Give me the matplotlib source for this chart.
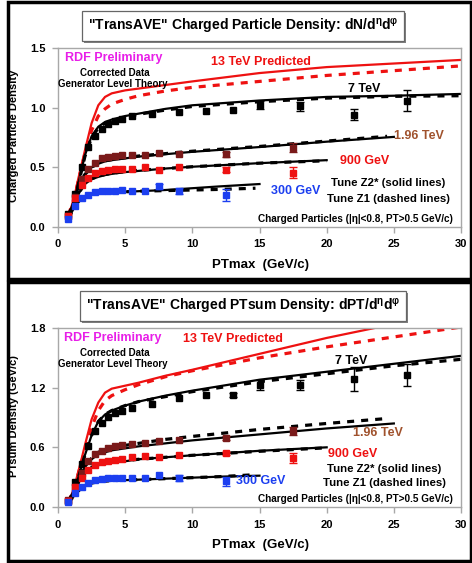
import matplotlib
matplotlib.use("Agg")
import matplotlib.pyplot as plt
from matplotlib.patches import Rectangle

plt.rcParams['font.family'] = ['Liberation Sans', 'DejaVu Sans']
plt.rcParams['font.weight'] = 'bold'
plt.rcParams['mathtext.default'] = 'regular'

# ---- data bins (PTmax, GeV/c) ----
bins = [0.75, 1.25, 1.75, 2.25, 2.75, 3.25, 3.75, 4.25, 4.75, 5.5, 6.5, 7.5, 9.0, 12.5, 17.5]
bins300 = [0.75, 1.25, 1.75, 2.25, 2.75, 3.25, 3.75, 4.25, 4.75, 5.5, 6.5, 7.5, 9.0, 12.5]
bins7 = [0.75, 1.25, 1.75, 2.25, 2.75, 3.25, 3.75, 4.25, 4.75, 5.5, 7.0, 9.0, 11.0, 13.0, 15.0, 18.0, 22.0, 26.0]

# ---- theory x grids ----
tx30 = [0.75, 1, 1.25, 1.5, 1.75, 2, 2.5, 3, 3.5, 4, 5, 6, 8, 10, 15, 20, 25, 30]
tx25 = [0.75, 1, 1.25, 1.5, 1.75, 2, 2.5, 3, 3.5, 4, 5, 6, 8, 10, 15, 20, 25]
tx24 = [0.75, 1, 1.25, 1.5, 1.75, 2, 2.5, 3, 3.5, 4, 5, 6, 8, 10, 15, 20, 24.5]
tx20 = [0.75, 1, 1.25, 1.5, 1.75, 2, 2.5, 3, 3.5, 4, 5, 6, 8, 10, 15, 20]
tx15 = [0.75, 1, 1.25, 1.5, 1.75, 2, 2.5, 3, 4, 5, 6, 8, 10, 12, 15]
tx14 = [0.75, 1, 1.25, 1.5, 1.75, 2, 2.5, 3, 4, 5, 6, 8, 10, 12, 14.7]

# ---- top panel: charged particle density ----
dens_7 = [0.11, 0.28, 0.50, 0.67, 0.76, 0.82, 0.86, 0.89, 0.905, 0.93, 0.945, 0.96, 0.975, 0.98, 1.02, 1.01, 0.94, 1.06]
dens_7_err = [0, 0, 0, 0, 0, 0, 0, 0, 0, 0, 0, 0, 0, 0, 0.035, 0.035, 0.047, 0.09]
dens_196 = [0.09, 0.25, 0.40, 0.49, 0.54, 0.575, 0.59, 0.595, 0.60, 0.60, 0.605, 0.62, 0.61, 0.61, 0.665]
dens_196_err = [0, 0, 0, 0, 0, 0, 0, 0, 0, 0, 0, 0, 0, 0.02, 0.035]
dens_900 = [0.09, 0.24, 0.35, 0.41, 0.45, 0.47, 0.48, 0.485, 0.49, 0.49, 0.50, 0.48, 0.50, 0.48, 0.455]
dens_900_err = [0, 0, 0, 0, 0, 0, 0, 0, 0, 0, 0, 0, 0, 0.02, 0.045]
dens_300 = [0.07, 0.175, 0.24, 0.27, 0.29, 0.30, 0.305, 0.305, 0.31, 0.305, 0.305, 0.34, 0.30, 0.265]
dens_300_err = [0, 0, 0, 0, 0, 0, 0, 0, 0, 0, 0, 0.02, 0.025, 0.05]

dens_13_z2 = [0.10, 0.17, 0.27, 0.40, 0.52, 0.64, 0.87, 1.02, 1.09, 1.12, 1.145, 1.16, 1.19, 1.22, 1.29, 1.34, 1.37, 1.40]
dens_13_z1 = [0.10, 0.17, 0.26, 0.38, 0.50, 0.61, 0.81, 0.93, 0.99, 1.03, 1.07, 1.10, 1.14, 1.17, 1.22, 1.27, 1.31, 1.35]
dens_7_z2 = [0.10, 0.16, 0.24, 0.36, 0.48, 0.60, 0.76, 0.84, 0.88, 0.90, 0.93, 0.95, 0.99, 1.02, 1.06, 1.09, 1.10, 1.115]
dens_7_z1 = [0.10, 0.15, 0.23, 0.35, 0.47, 0.59, 0.75, 0.83, 0.87, 0.89, 0.92, 0.945, 0.98, 1.01, 1.05, 1.08, 1.095, 1.10]
dens_196_z2 = [0.09, 0.15, 0.23, 0.32, 0.39, 0.44, 0.50, 0.53, 0.55, 0.56, 0.575, 0.59, 0.61, 0.63, 0.67, 0.715, 0.755]
dens_196_z1 = [0.09, 0.15, 0.23, 0.32, 0.39, 0.44, 0.50, 0.535, 0.555, 0.565, 0.58, 0.595, 0.615, 0.635, 0.675, 0.72, 0.76]
dens_900_z2 = [0.09, 0.14, 0.20, 0.27, 0.32, 0.36, 0.40, 0.42, 0.435, 0.445, 0.46, 0.47, 0.49, 0.505, 0.535, 0.56]
dens_900_z1 = [0.09, 0.14, 0.20, 0.27, 0.32, 0.36, 0.405, 0.425, 0.44, 0.45, 0.465, 0.475, 0.49, 0.505, 0.535, 0.555]
dens_300_z2 = [0.07, 0.12, 0.17, 0.21, 0.24, 0.255, 0.275, 0.285, 0.29, 0.295, 0.30, 0.31, 0.325, 0.34, 0.36]
dens_300_z1 = [0.07, 0.12, 0.17, 0.21, 0.24, 0.255, 0.275, 0.285, 0.29, 0.295, 0.30, 0.305, 0.31, 0.315, 0.325]

# ---- bottom panel: PTsum density ----
pts_7 = [0.06, 0.25, 0.43, 0.61, 0.76, 0.84, 0.91, 0.95, 0.97, 1.00, 1.04, 1.10, 1.125, 1.13, 1.23, 1.23, 1.29, 1.33]
pts_7_err = [0, 0, 0, 0, 0, 0, 0, 0, 0, 0, 0, 0, 0, 0.02, 0.05, 0.05, 0.12, 0.11]
pts_196 = [0.07, 0.20, 0.34, 0.46, 0.53, 0.56, 0.59, 0.61, 0.62, 0.63, 0.64, 0.66, 0.675, 0.69, 0.76]
pts_196_err = [0, 0, 0, 0, 0, 0, 0, 0, 0, 0, 0, 0, 0, 0.02, 0.04]
pts_900 = [0.06, 0.20, 0.29, 0.37, 0.42, 0.45, 0.465, 0.47, 0.48, 0.50, 0.51, 0.50, 0.52, 0.54, 0.49]
pts_900_err = [0, 0, 0, 0, 0, 0, 0, 0, 0, 0, 0, 0, 0, 0.015, 0.05]
pts_300 = [0.05, 0.14, 0.20, 0.245, 0.27, 0.28, 0.29, 0.29, 0.295, 0.29, 0.295, 0.32, 0.295, 0.26]
pts_300_err = [0, 0, 0, 0, 0, 0, 0, 0, 0, 0, 0, 0, 0.03, 0.045]

pts_13_z2 = [0.05, 0.12, 0.22, 0.35, 0.48, 0.62, 0.88, 1.05, 1.15, 1.19, 1.22, 1.25, 1.32, 1.38, 1.54, 1.70, 1.84, 1.96]
pts_13_z1 = [0.05, 0.12, 0.21, 0.33, 0.45, 0.57, 0.80, 0.97, 1.07, 1.12, 1.18, 1.23, 1.31, 1.37, 1.50, 1.61, 1.71, 1.81]
pts_7_z2 = [0.05, 0.11, 0.19, 0.29, 0.40, 0.52, 0.72, 0.86, 0.93, 0.97, 1.02, 1.06, 1.12, 1.17, 1.28, 1.36, 1.44, 1.52]
pts_7_z1 = [0.05, 0.11, 0.19, 0.29, 0.40, 0.52, 0.72, 0.86, 0.93, 0.97, 1.02, 1.06, 1.11, 1.16, 1.26, 1.34, 1.42, 1.485]
pts_196_z2 = [0.06, 0.11, 0.17, 0.25, 0.33, 0.40, 0.48, 0.53, 0.55, 0.57, 0.59, 0.61, 0.64, 0.67, 0.73, 0.79, 0.84]
pts_196_z1 = [0.06, 0.11, 0.17, 0.25, 0.33, 0.40, 0.49, 0.55, 0.58, 0.60, 0.62, 0.64, 0.68, 0.71, 0.78, 0.84, 0.89]
pts_900_z2 = [0.05, 0.10, 0.16, 0.23, 0.30, 0.35, 0.40, 0.42, 0.435, 0.445, 0.46, 0.48, 0.50, 0.52, 0.565, 0.60]
pts_900_z1 = [0.05, 0.10, 0.16, 0.23, 0.30, 0.35, 0.40, 0.425, 0.44, 0.45, 0.465, 0.48, 0.50, 0.52, 0.56, 0.595]
pts_300_z2 = [0.04, 0.08, 0.12, 0.16, 0.19, 0.215, 0.24, 0.255, 0.265, 0.27, 0.275, 0.285, 0.295, 0.305, 0.315]
pts_300_z1 = [0.04, 0.08, 0.12, 0.16, 0.19, 0.215, 0.24, 0.255, 0.265, 0.27, 0.275, 0.285, 0.295, 0.305, 0.325]

xticks = [0, 5, 10, 15, 20, 25, 30]
yticks_top = [0.0, 0.5, 1.0, 1.5]
yticks_bot = [0.0, 0.6, 1.2, 1.8]

BLACK = '#000000'
RED = '#ee1111'
MAROON = '#7a1a1a'
BLUE = '#1c3ff0'
SIENNA = '#a0522d'
MAGENTA = '#e81ee8'
GRAY = '#a8a8a8'

W, H = 472, 563
fig = plt.figure(figsize=(W / 100, H / 100), dpi=100)


def fx(px):
    return px / W


def fy(py):
    return 1 - py / H


def theory(ax, x, y, color, dashed):
    if dashed:
        ax.plot(x, y, color=color, lw=2.3, ls=(0, (2.2, 2.2)), zorder=2)
    else:
        ax.plot(x, y, color=color, lw=1.6, zorder=2)


def data(ax, x, y, err, color):
    ex = [a for a, e in zip(x, err) if e > 0]
    ey = [b for b, e in zip(y, err) if e > 0]
    ee = [e for e in err if e > 0]
    ax.errorbar(ex, ey, yerr=ee, fmt='none', ecolor=color, elinewidth=1.0,
                capsize=3, capthick=1.0, zorder=3)
    ax.plot(x, y, 's', color=color, ms=4.6, mec=color, zorder=4)


titles = []


def panel(top_px, ylim, yticks, ylabel, title, series, labels):
    ax = fig.add_axes([fx(58), fy(top_px + 179), fx(461) - fx(58), 179 / H])
    for xs, z2, xd, z1, col in series['lines']:
        theory(ax, xd, z1, col, True)
        theory(ax, xs, z2, col, False)
    for x, y, e, col in series['points']:
        data(ax, x, y, e, col)
    ax.set_xlim(0, 30)
    ax.set_ylim(*ylim)
    ax.set_xticks(xticks)
    ax.set_yticks(yticks)
    ax.set_yticklabels(['%.1f' % v for v in yticks])
    for s in ax.spines.values():
        s.set_color(GRAY)
        s.set_linewidth(1.0)
    ax.tick_params(direction='out', length=4, width=1.0, color=GRAY,
                   labelsize=8, pad=5)
    for t in ax.get_xticklabels() + ax.get_yticklabels():
        t.set_fontweight('bold')
    fig.text(fx(14), fy(top_px + 88), ylabel, rotation=90, fontsize=8,
             ha='center', va='center')
    fig.text(fx(260), fy(top_px + 217), 'PTmax  (GeV/c)', fontsize=9.5,
             ha='center', va='center')
    t = fig.text(fx(243), fy(top_px - 22), title, fontsize=10, ha='center',
                 va='center', zorder=5,
                 bbox=dict(boxstyle='square,pad=0.4', fc='white', ec='#666666', lw=0.9))
    titles.append(t)
    for (x, y, s, col, size) in labels:
        ax.text(x, y, s, color=col, fontsize=size, ha='center', va='center',
                fontweight='bold', zorder=5)
    ax.text(29.4, ylim[1] * 0.047, 'Charged Particles (|\u03b7|<0.8, PT>0.5 GeV/c)',
            fontsize=7.2, ha='right', va='center', zorder=5)
    return ax


top_series = {
    'lines': [
        (tx30, dens_13_z2, tx30, dens_13_z1, RED),
        (tx30, dens_7_z2, tx30, dens_7_z1, BLACK),
        (tx25, dens_196_z2, tx24, dens_196_z1, BLACK),
        (tx20, dens_900_z2, tx20, dens_900_z1, BLACK),
        (tx15, dens_300_z2, tx14, dens_300_z1, BLACK),
    ],
    'points': [
        (bins7, dens_7, dens_7_err, BLACK),
        (bins, dens_196, dens_196_err, MAROON),
        (bins, dens_900, dens_900_err, RED),
        (bins300, dens_300, dens_300_err, BLUE),
    ],
}
top_labels = [
    (4.15, 1.413, 'RDF Preliminary', MAGENTA, 9),
    (4.2, 1.29, 'Corrected Data', BLACK, 7),
    (4.1, 1.20, 'Generator Level Theory', BLACK, 7),
    (15.1, 1.38, '13 TeV Predicted', RED, 9),
    (22.8, 1.155, '7 TeV', BLACK, 9),
    (26.9, 0.765, '1.96 TeV', SIENNA, 9),
    (22.8, 0.555, '900 GeV', RED, 9),
    (17.7, 0.30, '300 GeV', BLUE, 9),
    (24.6, 0.366, 'Tune Z2* (solid lines)', BLACK, 8.2),
    (24.6, 0.235, 'Tune Z1 (dashed lines)', BLACK, 8.2),
]

bot_series = {
    'lines': [
        (tx30, pts_13_z2, tx30, pts_13_z1, RED),
        (tx30, pts_7_z2, tx30, pts_7_z1, BLACK),
        (tx25, pts_196_z2, tx24, pts_196_z1, BLACK),
        (tx20, pts_900_z2, tx20, pts_900_z1, BLACK),
        (tx15, pts_300_z2, tx14, pts_300_z1, BLACK),
    ],
    'points': [
        (bins7, pts_7, pts_7_err, BLACK),
        (bins, pts_196, pts_196_err, MAROON),
        (bins, pts_900, pts_900_err, RED),
        (bins300, pts_300, pts_300_err, BLUE),
    ],
}
bot_labels = [
    (4.1, 1.70, 'RDF Preliminary', MAGENTA, 9),
    (4.2, 1.55, 'Corrected Data', BLACK, 7),
    (4.1, 1.435, 'Generator Level Theory', BLACK, 7),
    (13.0, 1.69, '13 TeV Predicted', RED, 9),
    (21.8, 1.47, '7 TeV', BLACK, 9),
    (23.8, 0.74, '1.96 TeV', SIENNA, 9),
    (21.9, 0.53, '900 GeV', RED, 9),
    (15.1, 0.26, '300 GeV', BLUE, 9),
    (24.3, 0.38, 'Tune Z2* (solid lines)', BLACK, 8.2),
    (24.3, 0.24, 'Tune Z1 (dashed lines)', BLACK, 8.2),
]

panel(48, (0, 1.5), yticks_top, 'Charged Particle Density',
      r'"TransAVE" Charged Particle Density: dN/d$^{\eta}$d$^{\varphi}$',
      top_series, top_labels)
panel(328, (0, 1.8), yticks_bot, 'PTsum Density (GeV/c)',
      r'"TransAVE" Charged PTsum Density: dPT/d$^{\eta}$d$^{\varphi}$',
      bot_series, bot_labels)

# drop shadows behind the title boxes
fig.canvas.draw()
inv = fig.transFigure.inverted()
for t in titles:
    bb = t.get_bbox_patch().get_window_extent()
    (x0, y0), (x1, y1) = inv.transform([(bb.x0 + 2, bb.y0 - 2), (bb.x1 + 2, bb.y1 - 2)])
    fig.add_artist(Rectangle((x0, y0), x1 - x0, y1 - y0, transform=fig.transFigure,
                             fc='#808080', ec='none', zorder=4))

# panel frames
for y0, y1 in [(2, 279), (282, 561)]:
    fig.add_artist(Rectangle((fx(8), fy(y1)), fx(471) - fx(8), (y1 - y0) / H,
                             transform=fig.transFigure, fill=False,
                             ec='black', lw=2.5, clip_on=False))

fig.savefig('out.png', dpi=100)
